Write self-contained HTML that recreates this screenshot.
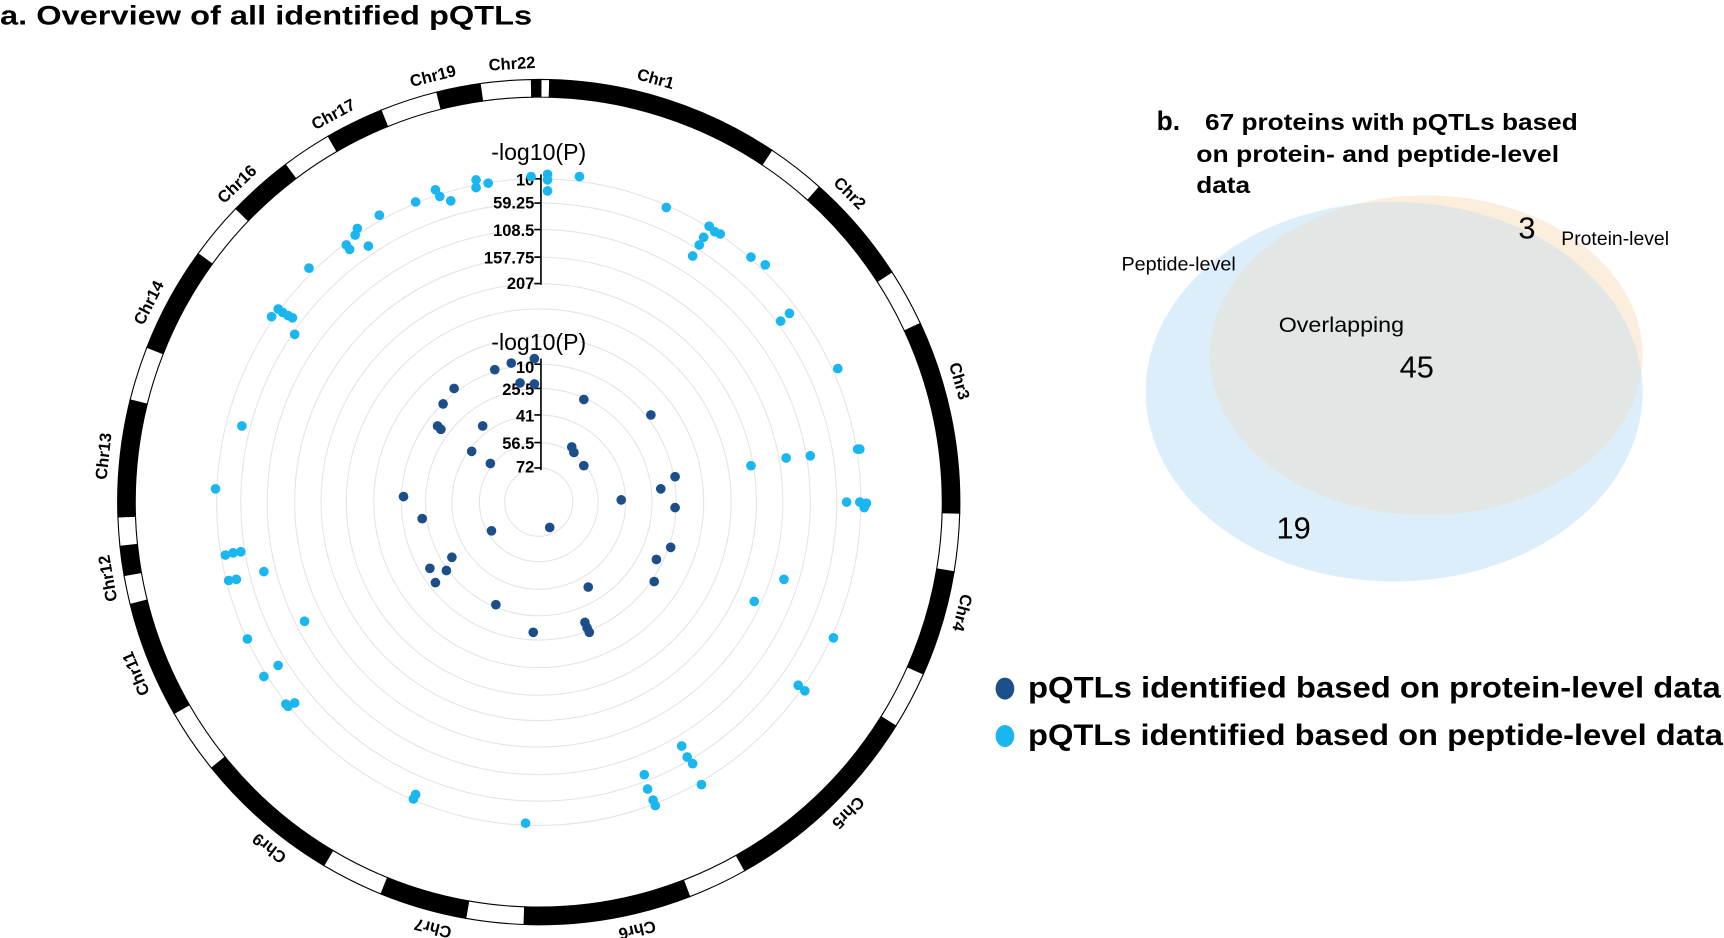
<!DOCTYPE html>
<html><head><meta charset="utf-8"><style>
html,body{margin:0;padding:0;background:#fff;width:1724px;height:938px;overflow:hidden}
svg{display:block}
text{font-family:"Liberation Sans",Arial,sans-serif}
</style></head><body>
<svg id="s" width="1724" height="938" viewBox="0 0 1568 850" preserveAspectRatio="none" xmlns="http://www.w3.org/2000/svg">
<defs><clipPath id="cb"><ellipse cx="1268" cy="355" rx="226" ry="172"/></clipPath></defs>
<text x="0" y="22" font-size="24" font-weight="bold" textLength="484" lengthAdjust="spacingAndGlyphs">a. Overview of all identified pQTLs</text>
<g id="grid" fill="none" stroke="#e4e4e4" stroke-width="1"></g>
<g id="ring"></g>
<g id="labels" font-size="15" font-weight="bold" text-anchor="middle"></g>
<g font-size="21" text-anchor="middle"><text x="490" y="145">-log10(P)</text><text x="490" y="317">-log10(P)</text></g>
<g stroke="#000" stroke-width="1.5" fill="none">
<path d="M492 158V258M486 162H492M486 184H492M486 208H492M486 233H492M486 257H492"/>
<path d="M492 325V426M486 330H492M486 352H492M486 376H492M486 401H492M486 424H492"/>
</g>
<g font-size="15" font-weight="bold" text-anchor="end">
<text x="486" y="168">10</text><text x="486" y="189">59.25</text><text x="486" y="214">108.5</text><text x="486" y="239">157.75</text><text x="486" y="262">207</text>
<text x="486" y="338">10</text><text x="486" y="358">25.5</text><text x="486" y="382">41</text><text x="486" y="407">56.5</text><text x="486" y="428">72</text>
</g>
<g id="dots"></g>
<ellipse cx="1268" cy="355" rx="226" ry="172" fill="#ddeefb"/>
<ellipse cx="1297" cy="322" rx="197" ry="145" fill="#fbeedd"/>
<ellipse cx="1297" cy="322" rx="197" ry="145" fill="#e2e6e4" clip-path="url(#cb)"/>
<g font-size="21" font-weight="bold"><text x="1052" y="118" font-size="24">b.</text><text x="1096" y="118" textLength="339" lengthAdjust="spacingAndGlyphs">67 proteins with pQTLs based</text><text x="1088" y="147" textLength="330" lengthAdjust="spacingAndGlyphs">on protein- and peptide-level</text><text x="1088" y="175" textLength="49" lengthAdjust="spacingAndGlyphs">data</text></g>
<g font-size="18"><text x="1020" y="245" textLength="104" lengthAdjust="spacingAndGlyphs">Peptide-level</text><text x="1420" y="222" textLength="98" lengthAdjust="spacingAndGlyphs">Protein-level</text><text x="1163" y="301" font-size="19" textLength="114" lengthAdjust="spacingAndGlyphs">Overlapping</text></g>
<g font-size="28"><text x="1381" y="216">3</text><text x="1273" y="342">45</text><text x="1161" y="488">19</text></g>
<ellipse cx="914" cy="624" rx="8.5" ry="10" fill="#1c4f8a"/>
<ellipse cx="914" cy="667" rx="8.5" ry="10" fill="#1ab6f0"/>
<g font-size="27" font-weight="bold"><text x="935" y="632" textLength="630" lengthAdjust="spacingAndGlyphs">pQTLs identified based on protein-level data</text><text x="935" y="675" textLength="632" lengthAdjust="spacingAndGlyphs">pQTLs identified based on peptide-level data</text></g>
</svg>
<script>
var NS="http://www.w3.org/2000/svg",cx=490,cy=455;
function el(t,a,p){var e=document.createElementNS(NS,t);for(var k in a)e.setAttribute(k,a[k]);document.getElementById(p).appendChild(e);return e;}
[31,54,79,103,125,150,175,198,222,247,271,293].forEach(function(r){el("circle",{cx:cx,cy:cy,r:r},"grid");});
function pt(a,r){a=a*Math.PI/180;return [cx+r*Math.sin(a),cy-r*Math.cos(a)];}
function arc(a0,a1,r0,r1,fill){var p1=pt(a0,r1),p2=pt(a1,r1),p3=pt(a1,r0),p4=pt(a0,r0),l=(a1-a0)>180?1:0;
el("path",{d:"M"+p1+"A"+r1+" "+r1+" 0 "+l+" 1 "+p2+"L"+p3+"A"+r0+" "+r0+" 0 "+l+" 0 "+p4+"Z",fill:fill,stroke:"#000","stroke-width":1},"ring");}
var b=[[-1,0.3,1],[0.3,1.5,0],[1.5,33.6,1],[33.6,41.8,0],[41.8,57,1],[57,65,0],[65,91.5,1],[91.5,99.5,0],[99.5,114,1],[114,122,0],[122,150.7,1],[150.7,159,0],[159,182,1],[182,190,0],[190,202,1],[202,210.7,0],[210.7,231,1],[231,240,0],[240,256,1],[256,260,0],[260,264,1],[264,268,0],[268,284,1],[284,291.5,0],[291.5,306,1],[306,314,0],[314,323,1],[323,330,0],[330,338,1],[338,346,0],[346,352,1],[352,359,0]];
b.forEach(function(s){arc(s[0],s[1],367,383,s[2]?"#000":"#fff");});
[["Chr1",15.5],["Chr2",45.3],["Chr3",74],["Chr4",104.6],["Chr5",135],["Chr6",167],["Chr7",194],["Chr9",218],["Chr11",247],["Chr12",260],["Chr13",276],["Chr14",297],["Chr16",316.4],["Chr17",332],["Chr19",346],["Chr22",356.5]].forEach(function(c){
var t=el("text",{x:cx,y:cy-393,transform:"rotate("+c[1]+" "+cx+" "+cy+")"},"labels");t.textContent=c[0];});
var L=[[483,160],[498,158],[498,163],[498,173],[527,160],[433,163],[433,170],[444,166],[396,172],[400,178],[410,182],[378,183],[345,195],[325,207],[323,213],[315,222],[318,226],[335,223],[281,243],[253,280],[257,283],[262,286],[266,288],[247,287],[268,303],[606,188],[645,205],[650,210],[640,215],[655,212],[636,222],[630,232],[683,233],[696,240],[710,291],[718,284],[762,334],[782,407],[780,407],[220,386],[196,443],[683,422],[715,415],[737,413],[770,455],[782,455],[788,456],[786,460],[205,503],[212,501],[219,500],[240,518],[208,526],[215,525],[713,525],[686,545],[277,563],[225,579],[758,578],[253,603],[240,613],[726,621],[732,626],[262,640],[268,637],[260,638],[620,676],[625,686],[630,692],[586,702],[638,711],[589,715],[594,725],[596,730],[378,720],[376,724],[478,746]];
var D=[[486,325],[450,335],[465,329],[473,347],[486,348],[413,352],[403,366],[531,362],[592,376],[398,386],[401,389],[439,386],[520,405],[522,410],[429,409],[446,420],[531,422],[614,432],[367,450],[565,453],[601,443],[614,460],[384,470],[447,481],[500,478],[610,496],[597,507],[411,505],[391,515],[406,517],[396,528],[535,532],[595,527],[451,548],[532,564],[534,569],[536,573],[485,573]];
L.forEach(function(p){el("circle",{cx:p[0],cy:p[1],r:4.4,fill:"#1ab6f0"},"dots");});
D.forEach(function(p){el("circle",{cx:p[0],cy:p[1],r:4.4,fill:"#1c4f8a"},"dots");});
</script>
</body></html>
